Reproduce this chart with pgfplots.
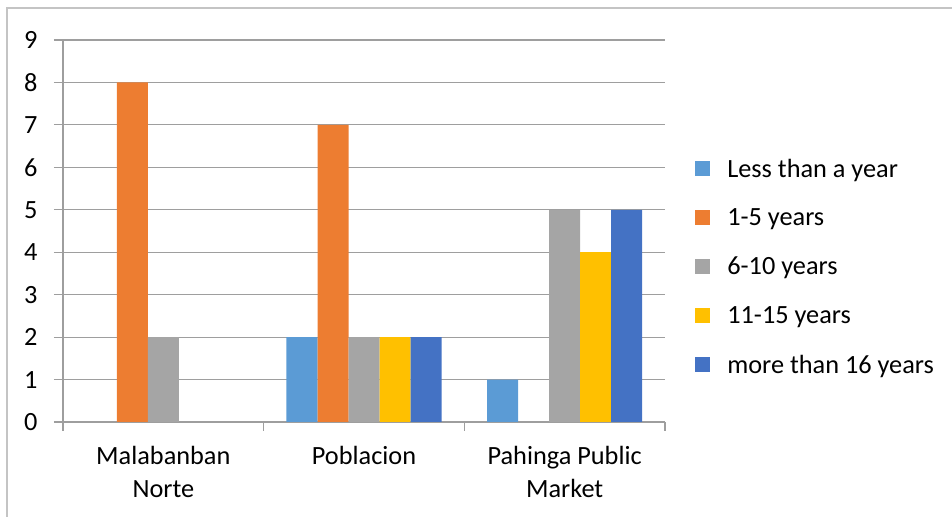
\documentclass[border=0pt]{standalone}
\usepackage{pgfplots}
\pgfplotsset{compat=1.18}
\usepackage{fontspec}
\setmainfont{Carlito}
\definecolor{c1}{HTML}{5B9BD5}
\definecolor{c2}{HTML}{ED7D31}
\definecolor{c3}{HTML}{A5A5A5}
\definecolor{c4}{HTML}{FFC000}
\definecolor{c5}{HTML}{4472C4}
\definecolor{gridc}{HTML}{9E9E9E}
\definecolor{framec}{HTML}{C4C4C4}
\begin{document}
\begin{tikzpicture}[x=1bp,y=1bp]
\useasboundingbox (0,0) rectangle (952,517);
\draw[color=framec, line width=2bp] (7,0) -- (7,509) -- (953,509);
\begin{axis}[
  at={(63bp,95bp)}, anchor=south west,
  width=602bp, height=382bp, scale only axis,
  xmin=-0.5, xmax=2.5, ymin=0, ymax=9,
  ytick={0,1,...,9},
  ymajorgrids,
  grid style={color=gridc, line width=1.2bp},
  axis x line=bottom, axis y line=left,
  axis line style={-, color=gridc, line width=1.2bp},
  tick align=outside,
  major tick length=9bp,
  minor tick length=9bp,
  ytick style={color=gridc, line width=1.2bp},
  major x tick style={draw=none},
  minor x tick style={color=gridc, line width=1.2bp},
  xtick={0,1,2},
  minor xtick={-0.5,0.5,1.5,2.5},
  xticklabels={{Malabanban\\Norte},{Poblacion},{Pahinga Public\\Market}},
  xticklabel style={align=center, font=\fontsize{26.4}{32.5}\selectfont, yshift=-12bp},
  yticklabel style={font=\fontsize{26.4}{31}\selectfont, xshift=-13bp},
  /pgf/number format/assume math mode=true,
  ybar=0pt, bar width=0.1545,
  legend style={draw=none, fill=none, at={(axis description cs:1.05,0.694)}, anchor=north west,
    font=\fontsize{26.4}{31}\selectfont, row sep=26bp, inner sep=0pt,
    /tikz/every odd column/.append style={column sep=15bp}},
  legend cell align=left,
  legend image code/.code={\fill[#1] (0bp,-7bp) rectangle (15bp,8bp);},
]
\addplot[fill=c1, draw=none] coordinates {(1,2) (2,1)};
\addlegendentry{Less than a year}
\addplot[fill=c2, draw=none] coordinates {(0,8) (1,7)};
\addlegendentry{1-5 years}
\addplot[fill=c3, draw=none] coordinates {(0,2) (1,2) (2,5)};
\addlegendentry{6-10 years}
\addplot[fill=c4, draw=none] coordinates {(1,2) (2,4)};
\addlegendentry{11-15 years}
\addplot[fill=c5, draw=none] coordinates {(1,2) (2,5)};
\addlegendentry{more than 16 years}
\end{axis}
\end{tikzpicture}
\end{document}
